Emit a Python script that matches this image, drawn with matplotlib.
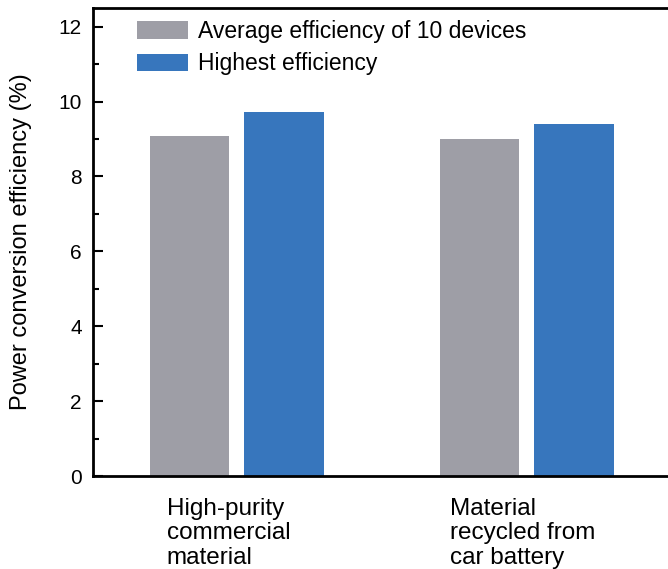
import numpy as np
import matplotlib.pyplot as plt
from matplotlib.ticker import MultipleLocator

plt.rcParams['font.family'] = ['Liberation Sans', 'DejaVu Sans']

# Efficiency values (%) for the two source materials
materials = ['High-purity\ncommercial\nmaterial', 'Material\nrecycled from\ncar battery']
avg_eff = [9.07, 9.01]
best_eff = [9.73, 9.41]
series_names = ['Average efficiency of 10 devices', 'Highest efficiency']

gray = '#9e9ea6'
blue = '#3776bd'

fig = plt.figure(figsize=(6.68, 5.69), dpi=100)
ax = fig.add_axes([93/668, 1 - 476/569, 1 - 93/668 + 0.01, (476 - 8)/569])

x = np.arange(len(materials))
w = 0.274
ax.bar(x - 0.163, avg_eff, w, color=gray, label=series_names[0])
ax.bar(x + 0.163, best_eff, w, color=blue, label=series_names[1])

ax.set_xlim(-0.496, 1.51)
ax.set_ylim(0, 12.5)
ax.yaxis.set_major_locator(MultipleLocator(2))
ax.yaxis.set_minor_locator(MultipleLocator(1))
ax.tick_params(axis='y', which='major', direction='in', length=7, width=1.5,
               labelsize=15, pad=8)
ax.tick_params(axis='y', which='minor', direction='in', length=4, width=1.5)

# category labels sit left-aligned under each bar pair
ax.set_xticks(x + np.array([-0.242, -0.264]), materials, ha='left',
              fontsize=17.5, linespacing=1.13)
ax.tick_params(axis='x', length=0, pad=16)

for s in ['left', 'bottom', 'top']:
    ax.spines[s].set_linewidth(2)
ax.spines['right'].set_visible(False)

ax.set_ylabel('Power conversion efficiency (%)', fontsize=17, labelpad=19)

ax.legend(loc='upper left', bbox_to_anchor=(137/668, 1 - 20/569),
          bbox_transform=fig.transFigure, frameon=False, fontsize=16.5,
          handlelength=2.23, handleheight=0.79, handletextpad=0.45,
          labelspacing=0.4, borderpad=0, borderaxespad=0)

fig.savefig('out.png', dpi=100)
